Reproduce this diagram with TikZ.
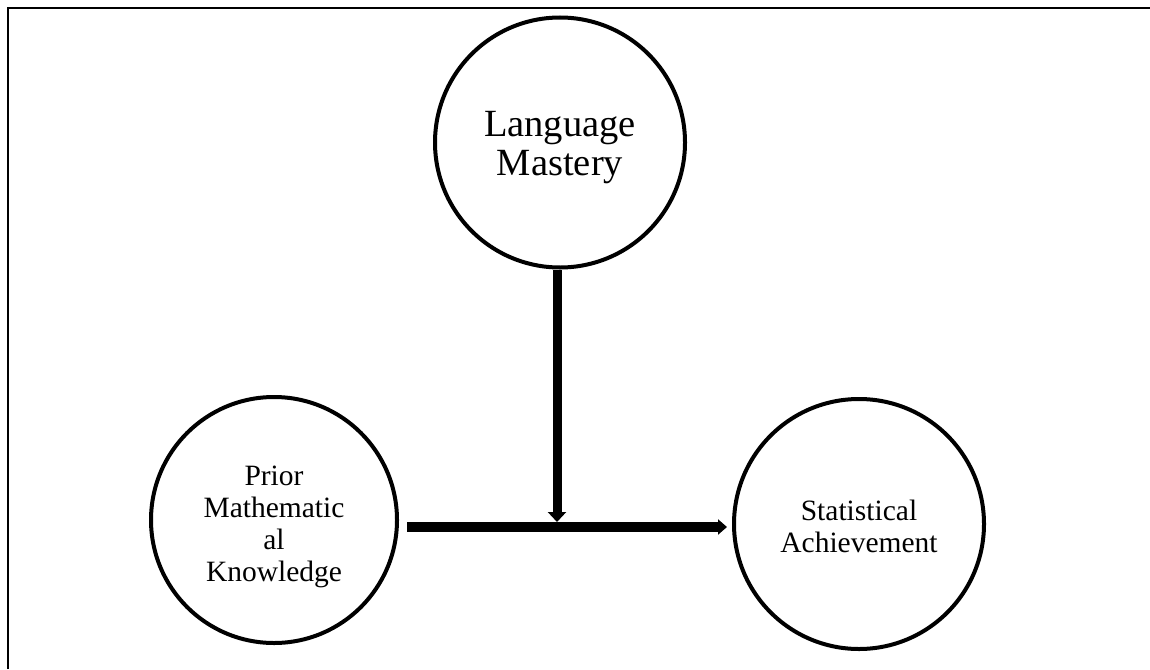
\documentclass[tikz,border=0pt]{standalone}
\usepackage{fontspec}
\setmainfont{Liberation Serif}
\usetikzlibrary{arrows.meta}
\tikzset{
  concept/.style={draw=black, line width=4pt, circle, minimum size=250pt, inner sep=0pt, fill=white},
  conceptsmall/.style={concept, minimum size=246pt},
  bigtext/.style={align=center, inner sep=0pt, font={\fontsize{38.5}{39}\selectfont}},
  midtext/.style={align=center, inner sep=0pt, font={\fontsize{29.5}{32}\selectfont}},
  link/.style={draw=black, line width=9pt, -{Triangle[width=18pt,length=10pt]}},
  mainlink/.style={draw=black, line width=10pt, -{Triangle[width=15pt,length=9pt]}},
  frame/.style={draw=black, line width=2pt, line join=miter}
}
\begin{document}
\begin{tikzpicture}[x=1pt, y=-1pt]
  \useasboundingbox (0,0) rectangle (1150,669);

  % page frame (top and left rules)
  \draw[frame] (7.7,669) -- (7.7,7.7) -- (1150,7.7);

  % concept circles
  \node[concept] (lang) at (560,142.5) {};
  \node[conceptsmall] (prior) at (274,520) {};
  \node[concept] (stat) at (859,524) {};

  % labels
  \node[bigtext] (langtxt) at ([yshift=-5pt]lang.center) {Language\\Mastery};
  \node[midtext] (priortxt) at ([yshift=-6.5pt]prior.center) {Prior\\Mathematic\\al\\Knowledge};
  \node[midtext] (stattxt) at ([yshift=-2pt]stat.center) {Statistical\\Achievement};

  % junction on the main path
  \coordinate (join) at (557,522);

  % main path: prior knowledge -> achievement
  \draw[mainlink] ([xshift=8pt]prior.east |- 0,527) -- ([xshift=-5pt]stat.west |- 0,527);

  % moderating path from language mastery
  \draw[link] (lang.south -| join) -- (join);
\end{tikzpicture}
\end{document}
